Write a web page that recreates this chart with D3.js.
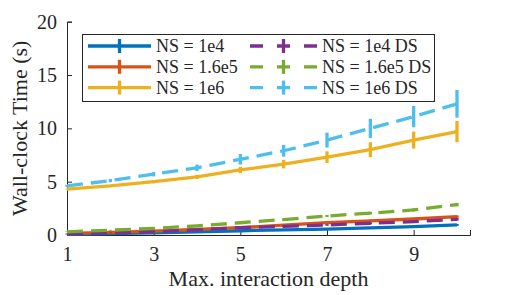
<!DOCTYPE html>
<html>
<head>
<meta charset="utf-8">
<script src="https://cdn.jsdelivr.net/npm/d3@7"></script>
<style>
  body { margin: 0; background: #fff; }
</style>
</head>
<body>
<svg width="520" height="295"></svg>
<script>
var width = 520, height = 295

// data
var depth = [1, 2, 3, 4, 5, 6, 7, 8, 9, 10]
var xTicks = [1, 3, 5, 7, 9]
var yTicks = [0, 5, 10, 15, 20]

var ns1e4 = [0.05, 0.12, 0.2, 0.3, 0.4, 0.48, 0.56, 0.66, 0.78, 0.94]
var ns1e4Err = [0.02, 0.03, 0.03, 0.04, 0.05, 0.05, 0.06, 0.07, 0.08, 0.09]
var ns16e5 = [0.15, 0.25, 0.37, 0.52, 0.69, 0.92, 1.16, 1.33, 1.5, 1.72]
var ns16e5Err = [0.02, 0.03, 0.04, 0.05, 0.06, 0.07, 0.08, 0.09, 0.1, 0.12]
var ns1e6 = [4.3, 4.6, 5.0, 5.45, 6.1, 6.65, 7.3, 8.0, 8.9, 9.7]
var ns1e6Err = [0.05, 0.1, 0.15, 0.2, 0.3, 0.4, 0.55, 0.7, 0.8, 1.0]
var ns1e4DS = [0.1, 0.2, 0.3, 0.48, 0.69, 0.8, 0.94, 1.1, 1.25, 1.47]
var ns1e4DSErr = [0.02, 0.03, 0.04, 0.05, 0.06, 0.07, 0.08, 0.09, 0.1, 0.12]
var ns16e5DS = [0.3, 0.45, 0.62, 0.85, 1.15, 1.45, 1.78, 2.05, 2.35, 2.85]
var ns16e5DSErr = [0.03, 0.04, 0.05, 0.06, 0.08, 0.09, 0.1, 0.12, 0.14, 0.16]
var ns1e6DS = [4.6, 5.1, 5.7, 6.3, 7.1, 7.9, 8.9, 10.0, 11.1, 12.3]
var ns1e6DSErr = [0.1, 0.15, 0.2, 0.3, 0.5, 0.55, 0.7, 0.9, 1.0, 1.3]

var series = [
  {name: 'NS = 1e4', y: ns1e4, err: ns1e4Err, color: '#0072BD', dash: null},
  {name: 'NS = 1.6e5', y: ns16e5, err: ns16e5Err, color: '#D95319', dash: null},
  {name: 'NS = 1e6', y: ns1e6, err: ns1e6Err, color: '#EDB120', dash: null},
  {name: 'NS = 1e4 DS', y: ns1e4DS, err: ns1e4DSErr, color: '#7E2F8E', dash: '16,8'},
  {name: 'NS = 1.6e5 DS', y: ns16e5DS, err: ns16e5DSErr, color: '#77AC30', dash: '16,8'},
  {name: 'NS = 1e6 DS', y: ns1e6DS, err: ns1e6DSErr, color: '#4DBEEE', dash: '16,8'}
]

var svg = d3.select('svg')
var serif = 'Liberation Serif, serif'

var x = d3.scaleLinear().domain([1, 10.3]).range([67, 470])
var y = d3.scaleLinear().domain([0, 20]).range([235, 21.7])

// axes (box off, ticks inward)
var xAxis = svg.append('g')
  .attr('transform', 'translate(0,' + y(0) + ')')
  .call(d3.axisBottom(x).tickValues(xTicks).tickSize(-5).tickPadding(9).tickFormat(d3.format('d')))
var yAxis = svg.append('g')
  .attr('transform', 'translate(' + x(1) + ',0)')
  .call(d3.axisLeft(y).tickValues(yTicks).tickSize(-5).tickPadding(10).tickFormat(d3.format('d')))

svg.selectAll('g').attr('font-family', serif)
svg.selectAll('.domain').attr('stroke', '#262626').attr('stroke-width', 1)
svg.selectAll('.tick line').attr('stroke', '#262626')
svg.selectAll('.tick text').attr('font-family', serif).attr('font-size', 20).attr('fill', '#262626')
xAxis.selectAll('.tick text').attr('dy', '0.85em')

var plot = svg.append('g')
series.forEach(function(s) {
  var g = plot.append('g')
  g.append('path')
    .attr('d', d3.line()
      .x(function(d, i) { return x(depth[i]) })
      .y(function(d) { return y(d) })(s.y))
    .attr('fill', 'none')
    .attr('stroke', s.color)
    .attr('stroke-width', 3.3)
    .attr('stroke-dasharray', s.dash)
  g.selectAll('line')
    .data(s.y)
    .join('line')
    .attr('x1', function(d, i) { return x(depth[i]) })
    .attr('x2', function(d, i) { return x(depth[i]) })
    .attr('y1', function(d, i) { return y(d - s.err[i]) })
    .attr('y2', function(d, i) { return y(d + s.err[i]) })
    .attr('stroke', s.color)
    .attr('stroke-width', 3.3)
})

// legend
var leg = svg.append('g')
leg.append('rect')
  .attr('x', 82.5).attr('y', 34.5).attr('width', 352).attr('height', 67)
  .attr('fill', '#fff').attr('stroke', '#262626').attr('stroke-width', 1)

series.forEach(function(s, i) {
  var col = Math.floor(i / 3), row = i % 3
  var x0 = col == 0 ? 88 : 250
  var x1 = col == 0 ? 151 : 317
  var cy = 46 + row * 20.8
  var cx = (x0 + x1) / 2
  leg.append('line')
    .attr('x1', x0).attr('x2', x1).attr('y1', cy).attr('y2', cy)
    .attr('stroke', s.color).attr('stroke-width', 3.3)
    .attr('stroke-dasharray', s.dash ? '13,14' : null)
  leg.append('line')
    .attr('x1', cx).attr('x2', cx).attr('y1', cy - 7).attr('y2', cy + 7)
    .attr('stroke', s.color).attr('stroke-width', 3.3)
  leg.append('text')
    .attr('x', x1 + 5).attr('y', cy)
    .attr('dy', '0.35em')
    .attr('font-family', serif)
    .attr('font-size', 18)
    .attr('fill', '#262626')
    .text(s.name)
})

// axis labels
svg.append('text')
  .attr('x', (67 + 470) / 2).attr('y', 286)
  .attr('text-anchor', 'middle')
  .attr('font-family', serif)
  .attr('font-size', 22)
  .attr('fill', '#262626')
  .text('Max. interaction depth')

svg.append('text')
  .attr('transform', 'translate(27,' + y(10) + ') rotate(-90)')
  .attr('text-anchor', 'middle')
  .attr('font-family', serif)
  .attr('font-size', 22)
  .attr('fill', '#262626')
  .text('Wall-clock Time (s)')
</script>
</body>
</html>
